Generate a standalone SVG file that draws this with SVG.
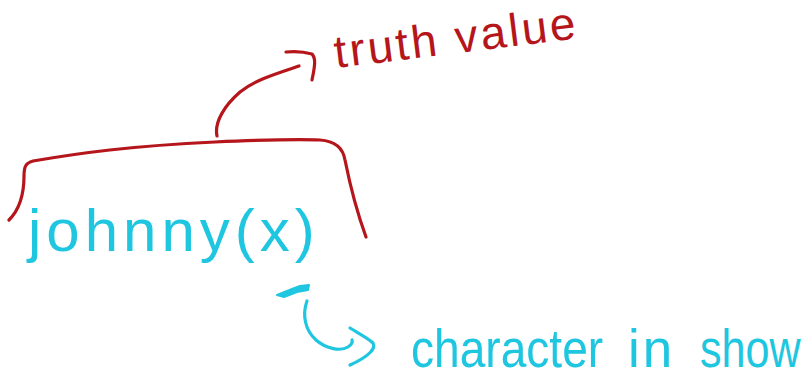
<svg xmlns="http://www.w3.org/2000/svg" width="804" height="376" viewBox="0 0 804 376">
  <style>
    .red { stroke: #b5161b; }
    .cyan { stroke: #1fc6e0; }
    .ink { fill: none; stroke-width: 3.2; stroke-linecap: round; stroke-linejoin: round; }
    .label { font-family: "Liberation Sans", "DejaVu Sans", sans-serif; font-weight: normal; }
    .redtext { fill: #b5161b; }
    .cyantext { fill: #1fc6e0; }
  </style>
  <rect width="804" height="376" fill="#ffffff"/>

  <!-- the predicate with the bracket over it -->
  <g id="johnny">
    <text class="label cyantext" x="28" y="251" font-size="60" letter-spacing="5">johnny(x)</text>
  </g>

  <!-- what the whole expression evaluates to -->
  <g id="truth-value">
    <text class="label redtext" x="336" y="68" font-size="46" letter-spacing="2.8" transform="rotate(-7 336 68)">truth value</text>
  </g>

  <!-- what the variable ranges over -->
  <g id="character-in-show">
    <text class="label cyantext" font-size="53" transform="translate(411 367) scale(0.87 1)">character</text>
    <text class="label cyantext" x="628" y="367" font-size="53" letter-spacing="3">in</text>
    <text class="label cyantext" font-size="53" transform="translate(700 367) scale(0.815 1)">show</text>
  </g>

  <g id="connectors">
    <!-- bracket spanning johnny(x) -->
    <path class="ink red" d="M9,220 C19,210 24,195 24,176 C24,166 26,163 33,161 C80,153 130,146 215,142 C260,140 300,139 320,140 C335,141 343,148 345,160 C350,185 358,215 366,237"/>
    <!-- bracket to truth value -->
    <path class="ink red" d="M217,136 C214,122 225,105 240,92 C255,80 275,74 299,66"/>
    <path class="ink red" d="M286,52 C295,51 305,52 312,54 C316,58 315,66 312,80"/>
    <!-- marker under x -->
    <path d="M277,295 L292,289 L300,286 L309,285 L308,290 L297,292 L284,297 Z" fill="#1fc6e0" stroke="#1fc6e0" stroke-width="2" stroke-linejoin="round"/>
    <!-- x to character in show -->
    <path class="ink cyan" d="M307,301 C302,315 305,330 316,340 C325,348 340,352 348,347 C351,345 353,343 352,340"/>
    <path class="ink cyan" d="M350,328 C358,333 368,338 373,343 C376,348 370,356 350,365"/>
  </g>
</svg>
